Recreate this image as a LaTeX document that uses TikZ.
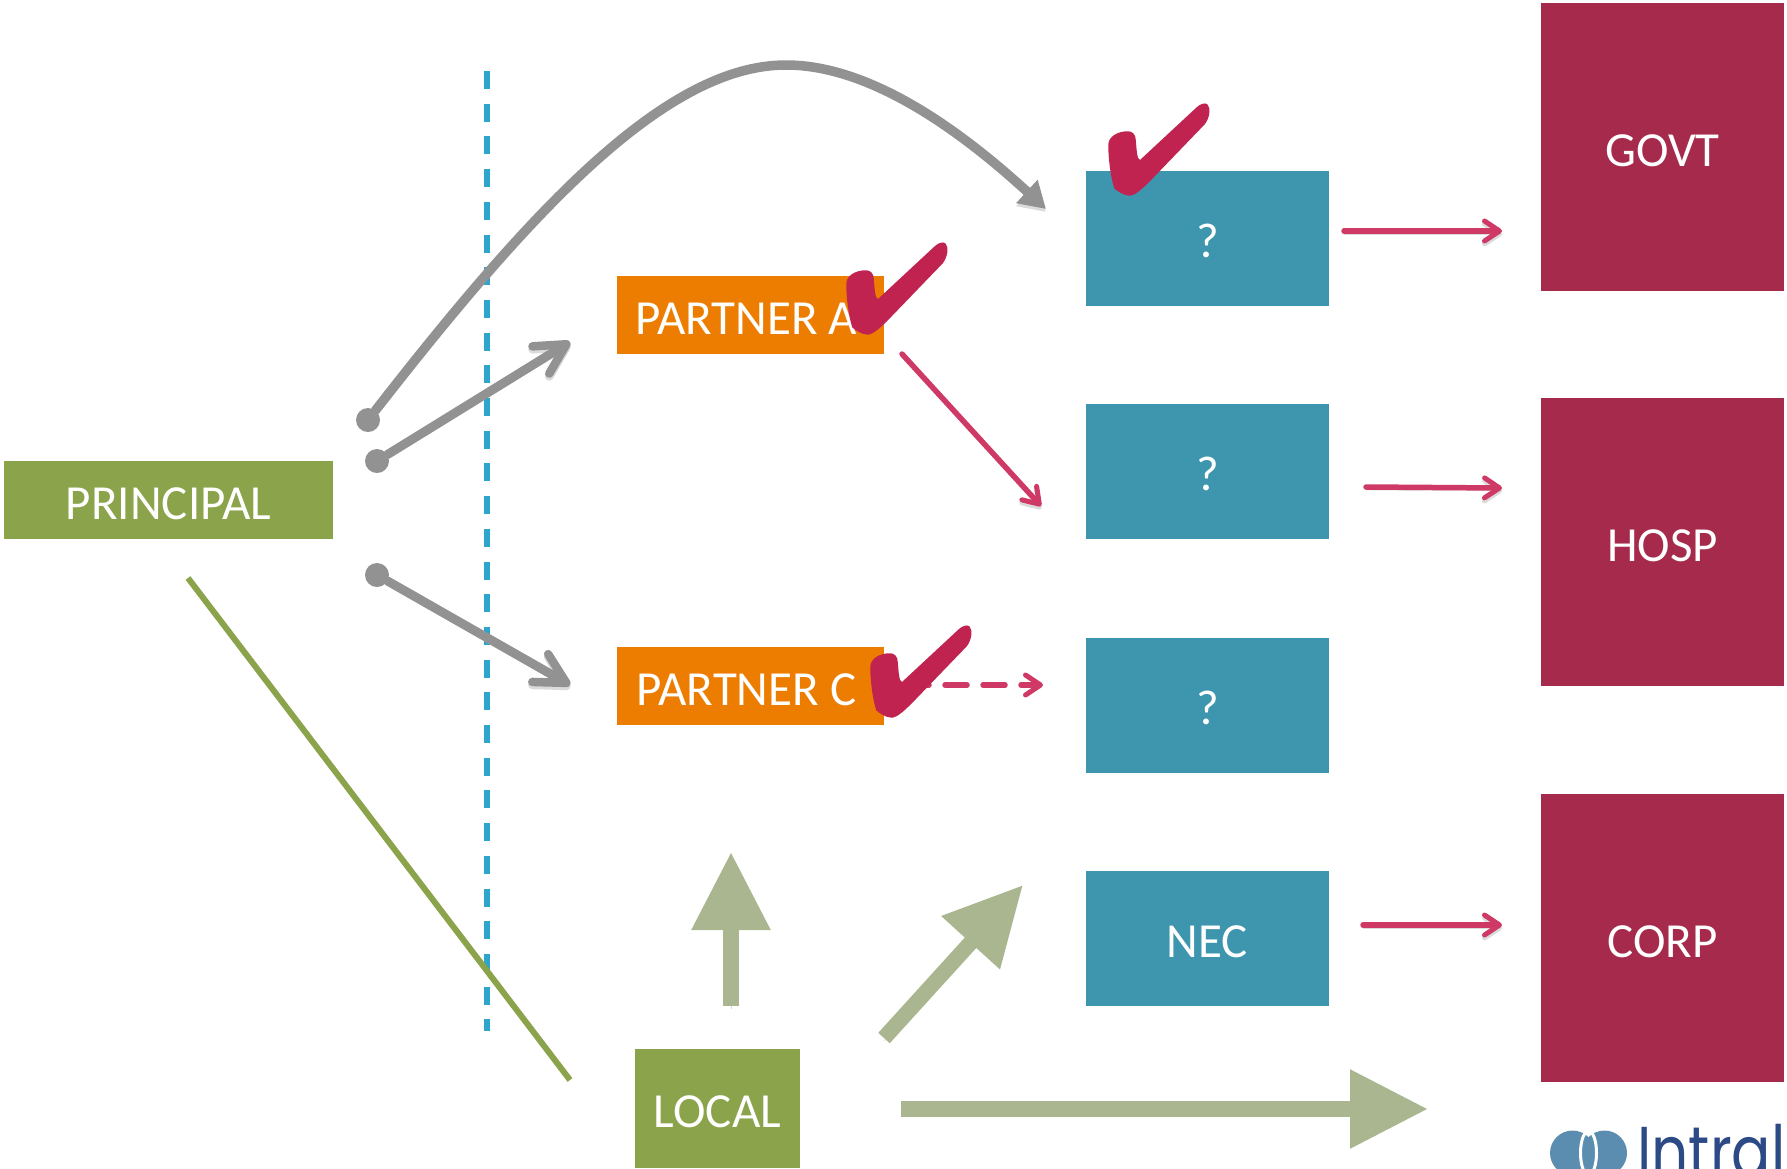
\documentclass[tikz,border=0pt]{standalone}
\usepackage{fontspec}
\setmainfont{Carlito}
\newfontfamily\logofont[FakeStretch=0.81]{Poppins}
\usetikzlibrary{arrows.meta,positioning}
\definecolor{principalgreen}{HTML}{8BA34B}
\definecolor{partnerorange}{HTML}{ED7D00}
\definecolor{askteal}{HTML}{3E96AE}
\definecolor{sectorred}{HTML}{A62A4C}
\definecolor{lineblue}{HTML}{2EA5CC}
\definecolor{flowgrey}{HTML}{929292}
\definecolor{flowred}{HTML}{CE3A65}
\definecolor{tickred}{HTML}{C12350}
\definecolor{paleolive}{HTML}{A9B68F}
\definecolor{logoblue}{HTML}{5A8DB0}
\definecolor{logonavy}{HTML}{2C4A85}
\tikzset
{
    labelbox/.style = {rectangle, inner sep=0pt, text=white, font=\fontsize{49}{49}\selectfont, text height=38pt, text depth=0pt, align=center},
    principalbox/.style = {labelbox, fill=principalgreen, minimum width=329, minimum height=78},
    partnerbox/.style = {labelbox, fill=partnerorange, minimum width=267, minimum height=78},
    askbox/.style = {labelbox, fill=askteal, minimum width=243, minimum height=135},
    sectorbox/.style = {labelbox, fill=sectorred, minimum width=243, minimum height=288},
    localbox/.style = {labelbox, fill=principalgreen, minimum width=165.5, minimum height=119},
    softshade/.style = {preaction={draw=black!14, transform canvas={yshift=-3pt}}},
    stub/.style = {circle, fill=flowgrey, inner sep=0pt, minimum size=24},
    greyflow/.style = {softshade, draw=flowgrey, line width=9pt, line cap=round, -{Straight Barb[length=30pt,width=32pt,line width=8.5pt,round]}},
    greycurve/.style = {softshade, draw=flowgrey, line width=9.5pt, line cap=round, -{Triangle[length=26pt,width=30pt]}},
    redline/.style = {draw=flowred, line width=5.5pt, line cap=round, -{Straight Barb[length=15pt,width=20pt,line width=5pt,round]}},
    redflow/.style = {softshade, redline},
    paleflow/.style = {softshade, draw=paleolive, line width=15.5pt, -{Triangle[length=78pt,width=75pt]}},
    tickmark/.pic = {
        \filldraw [tickred, line width=1.5pt, line join=round] (10,-34) -- (67,-87) .. controls (70,-90) and (75,-92) .. (77,-90)
            .. controls (80,-87) and (79,-77) .. (74,-71) -- (21,-16)
            .. controls (13,-8) and (6,-1) .. (0,0) .. controls (-6,0) and (-13,-5) .. (-15,-7)
            .. controls (-18,-15) and (-21,-35) .. (-21,-50)
            .. controls (-21,-58) and (-12,-63) .. (-2,-63)
            .. controls (2,-63) and (5,-60) .. (5,-55)
            .. controls (6,-45) and (6,-35) .. (10,-34) -- cycle;
    }
}
\begin{document}
\begin{tikzpicture}[x=1pt,y=-1pt]
\useasboundingbox (0,0) rectangle (1787,1168);
% boxes
\node [principalbox] (principal) at (168.5,500) {PRINCIPAL};
\node [partnerbox] (partnerA) at (750.5,315) {PARTNER A\hspace*{8pt}};
\node [partnerbox] (partnerC) at (750.5,686) {PARTNER C\hspace*{8pt}};
\node [askbox] (askA) at (1207.5,238.5) {?};
\node [askbox] (askB) at (1207.5,471) {?};
\node [askbox] (askC) at (1207.5,705) {?};
\node [askbox] (nec) at (1207.5,938) {NEC};
\node [sectorbox] (govt) at (1662.5,147) {GOVT};
\node [sectorbox] (hosp) at (1662.5,542) {HOSP};
\node [sectorbox] (corp) at (1662.5,938) {CORP};
\node [localbox] (local) at (717.5,1108.5) {LOCAL};
% free ends
\coordinate (divtop) at (487,71);
\coordinate (divbot) at (487,1031);
\coordinate (tipA) at (570,342);
\coordinate (tipC) at (570,685);
\coordinate (tipask) at (1046,209);
\coordinate (peak) at (786,65);
\coordinate (greenstart) at (188,578);
\coordinate (greenend) at (570,1080);
\coordinate (fromA) at (902,354);
\coordinate (toB) at (1041,506);
\coordinate (fromC) at (907,685);
\coordinate (toC) at (1043,685);
\coordinate (govtfrom) at (1344,231);
\coordinate (govtto) at (1502,231);
\coordinate (hospfrom) at (1366,487);
\coordinate (hospto) at (1502,488);
\coordinate (corpfrom) at (1363,925);
\coordinate (corpto) at (1502,925);
\coordinate (upfrom) at (731,1006);
\coordinate (upto) at (731,852);
\coordinate (diagfrom) at (884,1038);
\coordinate (diagto) at (1023,885);
\coordinate (longfrom) at (901,1109);
\coordinate (longto) at (1428,1109);
% divider and green line
\draw [lineblue, line width=6pt, dash pattern=on 18pt off 14.7pt] (divtop) -- (divbot);
\draw [principalgreen, line width=6pt] (greenstart) -- (greenend);
% grey flows
\node [stub] (stubU) at (368,420) {};
\node [stub] (stubM) at (377,461) {};
\node [stub] (stubL) at (377,575) {};
\draw [greycurve] (stubU) .. controls (530,212) and (665,65) .. (peak) .. controls (870,65) and (960,130) .. (tipask);
\draw [greyflow] (stubM) -- (tipA);
\draw [greyflow] (stubL) -- (tipC);
% red flows
\draw [redflow] (fromA) -- (toB);
\draw [redline, dash pattern=on 22pt off 16pt] (fromC) -- (toC);
\draw [redflow] (govtfrom) -- (govtto);
\draw [redflow] (hospfrom) -- (hospto);
\draw [redflow] (corpfrom) -- (corpto);
% local flows
\draw [paleflow] (upfrom) -- (upto);
\draw [paleflow] (diagfrom) -- (diagto);
\draw [paleflow] (longfrom) -- (longto);
% ticks
\pic at (1130,195) {tickmark};
\pic at (868,334) {tickmark};
\pic at (892,717) {tickmark};
% logo
\begin{scope}
\clip (1500,1090) rectangle (1787,1168);
\fill [logoblue] (1572.5,1153) circle (22.5);
\fill [logoblue] (1604.5,1153) circle (22.5);
\draw [white, line width=3pt] (1588.5,1153) ellipse (8 and 22);
\node [anchor=base west, inner sep=0pt, text=logonavy, font=\logofont\fontsize{72}{72}\selectfont] (logo) at (1637,1177) {Intral};
\end{scope}
\end{tikzpicture}
\end{document}
